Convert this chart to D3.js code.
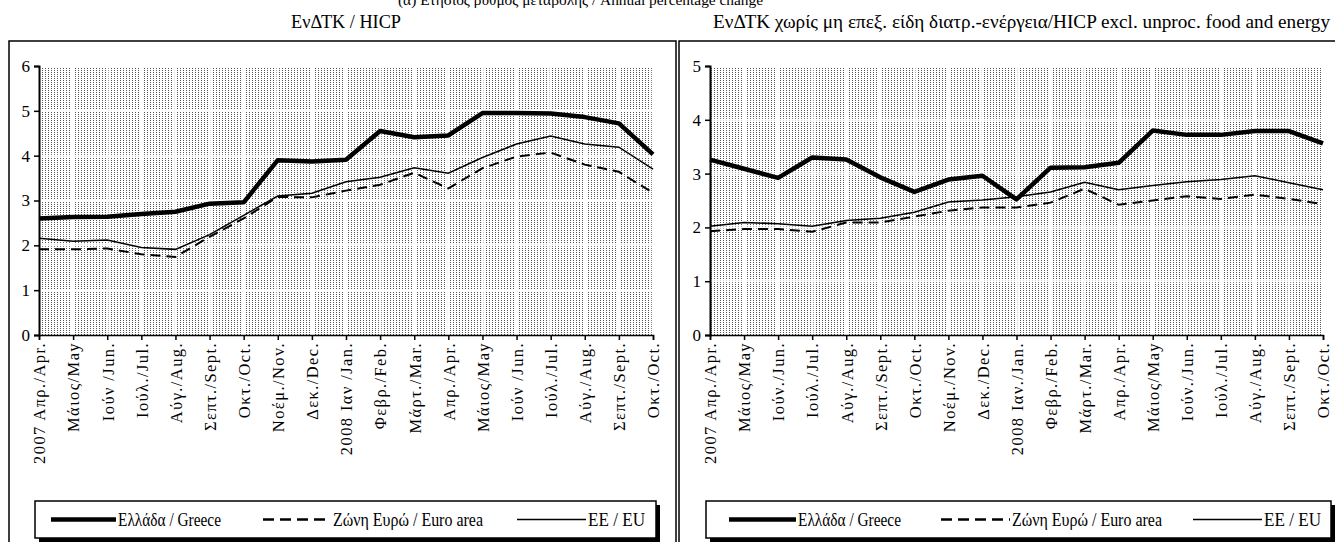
<!DOCTYPE html>
<html><head><meta charset="utf-8">
<script src="https://cdn.jsdelivr.net/npm/d3@7"></script>
<style>
html,body{margin:0;padding:0;background:#fff;}
svg{display:block;}
</style></head>
<body><svg id="c" width="1335" height="542" font-family="Liberation Serif"></svg>
<script>
const categoriesLeft = ["2007 Απρ./Apr.","Μάιος/May","Ιούν /Jun.","Ιούλ./Jul.","Αύγ./Aug.","Σεπτ./Sept.","Οκτ./Oct.","Νοέμ./Nov.","Δεκ./Dec.","2008 Ιαν /Jan.","Φεβρ./Feb.","Μάρτ./Mar.","Απρ./Apr.","Μάιος/May","Ιούν /Jun.","Ιούλ./Jul.","Αύγ./Aug.","Σεπτ./Sept.","Οκτ./Oct."];
const categoriesRight = ["2007 Απρ./Apr.","Μάιος/May","Ιούν./Jun.","Ιούλ./Jul.","Αύγ./Aug.","Σεπτ./Sept.","Οκτ./Oct.","Νοέμ./Nov.","Δεκ./Dec.","2008 Ιαν./Jan.","Φεβρ./Feb.","Μάρτ./Mar.","Απρ./Apr.","Μάιος/May","Ιούν./Jun.","Ιούλ./Jul.","Αύγ./Aug.","Σεπτ./Sept.","Οκτ./Oct."];

// HICP (left)
const greeceHICP = [2.6,2.63,2.64,2.7,2.75,2.93,2.96,3.9,3.87,3.91,4.55,4.41,4.45,4.95,4.95,4.94,4.86,4.72,4.03];
const euroHICP   = [1.91,1.91,1.93,1.8,1.74,2.19,2.6,3.08,3.07,3.22,3.35,3.62,3.27,3.72,3.98,4.07,3.8,3.64,3.17];
const euHICP     = [2.16,2.09,2.12,1.95,1.91,2.24,2.67,3.1,3.16,3.42,3.52,3.73,3.61,3.96,4.26,4.44,4.26,4.19,3.7];

// HICP excl. unprocessed food and energy (right)
const greeceCore = [3.26,3.09,2.92,3.3,3.26,2.93,2.66,2.89,2.96,2.52,3.11,3.12,3.2,3.8,3.72,3.72,3.79,3.79,3.56];
const euroCore   = [1.93,1.97,1.97,1.92,2.09,2.09,2.2,2.31,2.37,2.37,2.46,2.72,2.42,2.5,2.58,2.53,2.61,2.53,2.43];
const euCore     = [2.02,2.09,2.07,2.02,2.13,2.17,2.28,2.47,2.51,2.57,2.66,2.84,2.7,2.78,2.85,2.89,2.96,2.83,2.7];

const yTicksLeft = [0,1,2,3,4,5,6];
const yTicksRight = [0,1,2,3,4,5];

const titleLeft = "ΕνΔΤΚ / HICP";
const titleRight = "ΕνΔΤΚ χωρίς μη επεξ. είδη διατρ.-ενέργεια/HICP excl.  unproc. food and energy";
const topTitle = "(α) Ετήσιος ρυθμός μεταβολής / Annual percentage change";
const legendLabels = ["Ελλάδα / Greece","Ζώνη Ευρώ / Euro area","ΕΕ / EU"];

const FONT = "Liberation Serif";
const svg = d3.select("#c");
const defs = svg.append("defs");
const pat = defs.append("pattern").attr("id","dots").attr("patternUnits","userSpaceOnUse")
  .attr("width",3).attr("height",2);
pat.append("rect").attr("width",3).attr("height",2).attr("fill","#fff");
pat.append("rect").attr("x",0).attr("y",0).attr("width",1).attr("height",1).attr("fill","#555");

// top line, cut off at the top edge as in the source
svg.append("text").attr("font-family",FONT).attr("x",398).attr("y",5).attr("font-size",15)
  .attr("textLength",365).attr("lengthAdjust","spacingAndGlyphs").text(topTitle);

function panel(o){
  svg.append("rect").attr("x",o.bx).attr("y",41).attr("width",o.bw).attr("height",520)
    .attr("fill","none").attr("stroke","#000").attr("stroke-width",1.5);
  svg.append("text").attr("font-family",FONT).attr("x",o.tx).attr("y",28).attr("font-size",18)
    .attr("textLength",o.tl).attr("lengthAdjust","spacingAndGlyphs").text(o.title);

  const x = d3.scalePoint().domain(d3.range(o.cats.length)).range([o.x0,o.x1]);
  const y = d3.scaleLinear().domain([0,o.ymax]).range([335,66]);
  const g = svg.append("g");
  g.append("rect").attr("x",o.x0).attr("y",y(o.ymax)).attr("width",o.x1-o.x0).attr("height",y(0)-y(o.ymax))
    .attr("fill","url(#dots)");
  g.selectAll(".vg").data(d3.range(1,o.cats.length)).join("line")
    .attr("x1",d=>x(d)).attr("x2",d=>x(d)).attr("y1",y(o.ymax)).attr("y2",y(0))
    .attr("stroke","#fff").attr("stroke-width",2.5);
  g.selectAll(".hg").data(o.yticks.slice(1)).join("line")
    .attr("x1",o.x0).attr("x2",o.x1).attr("y1",d=>y(d)).attr("y2",d=>y(d))
    .attr("stroke","#fff").attr("stroke-width",2);

  const line = d3.line().x((d,i)=>x(i)).y(d=>y(d));
  g.append("path").attr("d",line(o.euro)).attr("fill","none").attr("stroke","#000")
    .attr("stroke-width",2).attr("stroke-dasharray","10,6");
  g.append("path").attr("d",line(o.eu)).attr("fill","none").attr("stroke","#000").attr("stroke-width",1.5);
  g.append("path").attr("d",line(o.greece)).attr("fill","none").attr("stroke","#000").attr("stroke-width",4.5)
    .attr("stroke-linejoin","round");

  const ya = g.append("g").attr("transform",`translate(${o.x0},0)`)
    .call(d3.axisLeft(y).tickValues(o.yticks).tickFormat(d3.format("d")).tickSize(5).tickPadding(4));
  ya.attr("font-family",FONT);
  ya.select(".domain").attr("stroke-width",2);
  ya.selectAll("line").attr("stroke-width",1.5);
  ya.selectAll("text").attr("font-family",FONT).attr("font-size",17).attr("fill","#000");
  const xa = g.append("g").attr("transform",`translate(0,${y(0)})`)
    .call(d3.axisBottom(x).tickSize(5).tickFormat(i=>o.cats[i]));
  xa.attr("font-family",FONT);
  xa.select(".domain").attr("stroke-width",1.5);
  xa.selectAll("line").attr("stroke-width",1.5);
  xa.selectAll("text").attr("font-family",FONT).attr("font-size",16.5).attr("fill","#000")
    .attr("letter-spacing",1.4)
    .attr("transform","rotate(-90)").attr("text-anchor","end").attr("dy","0.35em").attr("x",-7).attr("y",0);

  const ly0 = 501, lh = 37;
  svg.append("rect").attr("x",o.lx0+4).attr("y",ly0+4).attr("width",o.lx1-o.lx0).attr("height",lh).attr("fill","#000");
  svg.append("rect").attr("x",o.lx0).attr("y",ly0).attr("width",o.lx1-o.lx0).attr("height",lh)
    .attr("fill","#fff").attr("stroke","#000").attr("stroke-width",1.5);
  const ly = ly0+lh/2;
  const styles = [{w:4.5,d:null},{w:2.5,d:"11,6"},{w:1.5,d:null}];
  o.items.forEach((it,k)=>{
    svg.append("line").attr("x1",it[0]).attr("x2",it[1]).attr("y1",ly).attr("y2",ly)
      .attr("stroke","#000").attr("stroke-width",styles[k].w).attr("stroke-dasharray",styles[k].d);
    svg.append("text").attr("font-family",FONT).attr("x",it[1]+2).attr("y",ly+6).attr("font-size",18)
      .attr("textLength",it[2]).attr("lengthAdjust","spacingAndGlyphs").text(legendLabels[k]);
  });
}

panel({bx:9,bw:667,tx:291,tl:110,title:titleLeft,cats:categoriesLeft,x0:39,x1:653,ymax:6,yticks:yTicksLeft,
  greece:greeceHICP,euro:euroHICP,eu:euHICP,lx0:35,lx1:656,
  items:[[51,116,103],[263,331,150],[517,586,57]]});
panel({bx:679,bw:670,tx:713,tl:617,title:titleRight,cats:categoriesRight,x0:710,x1:1323,ymax:5,yticks:yTicksRight,
  greece:greeceCore,euro:euroCore,eu:euCore,lx0:706,lx1:1331,
  items:[[729,796,103],[941,1010,150],[1193,1262,57]]});
</script></body></html>
